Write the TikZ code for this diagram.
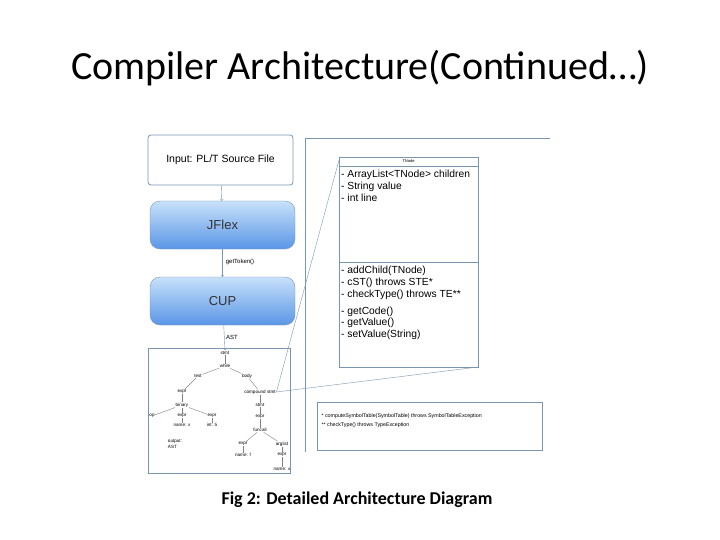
\documentclass[tikz,border=0pt]{standalone}
\usepackage{fontspec}
\setmainfont{Carlito}
\newfontfamily\arial{Liberation Sans}
\usetikzlibrary{positioning}
\definecolor{frameblue}{RGB}{120,150,180}
\definecolor{pillblue}{RGB}{90,150,230}
\definecolor{pilltop}{RGB}{200,225,250}
\begin{document}
\begin{tikzpicture}[x=1pt,y=-1pt,
  box/.style={draw=frameblue,thick},
  pill/.style={draw=frameblue,rounded corners=10pt,top color=pilltop,bottom color=pillblue,
    minimum width=145pt,minimum height=48pt,font=\arial\fontsize{13}{15}\selectfont,text=black!80},
  t/.style={font=\arial\fontsize{4.6}{5.5}\selectfont,inner sep=0.5pt},
  uml/.style={font=\arial\fontsize{10.3}{11.8}\selectfont,align=left,anchor=north west,inner sep=0pt},
  lbl/.style={font=\arial\fontsize{6}{7}\selectfont},
  every edge/.style={draw,gray,thin}]
\useasboundingbox (0,0) rectangle (720,540);
% titles
\node (title) at (360,68) {\fontsize{40}{46}\selectfont Compiler Architecture(Continued…)};
\node (caption) at (357,500) {\fontsize{18}{21}\selectfont\bfseries Fig 2: Detailed Architecture Diagram};
% left column
\node[box,rounded corners=3pt,minimum width=145pt,minimum height=50pt,
  font=\arial\fontsize{10.5}{12}\selectfont] (input) at (220.5,160) {Input: PL/T Source File};
\node[pill] (jflex) at (222.5,225) {JFlex};
\node[pill] (cup) at (222.5,301) {CUP};
\node[lbl] (gettok) at (240,262) {getToken()};
\node[lbl] (ast) at (232,337) {AST};
\draw[frameblue,->] (input) -- (jflex);
\draw[frameblue,->] (jflex) -- (cup);
\draw[box] (148,348) rectangle (290,473);
\draw[frameblue,->] (cup) -- (225,350);
% tree
\node[t] (stmt) at (225,353) {stmt};
\node[t] (while) at (225,366) {while};
\node[t] (test) at (198,376) {test};
\node[t] (body) at (247,376) {body};
\node[t] (expr1) at (182,392) {expr};
\node[t] (cstmt) at (260,392) {compound stmt};
\node[t] (binary) at (182,405) {binary};
\node[t] (op) at (152,416) {op};
\node[t] (expr2) at (182,416) {expr};
\node[t] (expr3) at (212,416) {expr};
\node[t] (namex) at (182,425) {name: x};
\node[t] (int5) at (212,425) {int: 5};
\node[t,align=left] (out) at (175,444) {output:\\AST};
\node[t] (stmt2) at (260,405) {stmt};
\node[t] (expr4) at (260,417) {expr};
\node[t] (fcall) at (260,430) {funcall};
\node[t] (expr5) at (243,444) {expr};
\node[t] (arglist) at (282,444) {arglist};
\node[t] (namef) at (243,455) {name: f};
\node[t] (expr6) at (282,455) {expr};
\node[t] (namex2) at (282,469) {name: x};
\path (stmt) edge (while) (while) edge (test) (while) edge (body)
  (test) edge (expr1) (body) edge (cstmt) (expr1) edge (binary)
  (binary) edge (op) (binary) edge (expr2) (binary) edge (expr3)
  (expr2) edge (namex) (expr3) edge (int5) (cstmt) edge (stmt2)
  (stmt2) edge (expr4) (expr4) edge (fcall) (fcall) edge (expr5)
  (fcall) edge (arglist) (expr5) edge (namef) (arglist) edge (expr6)
  (expr6) edge (namex2);
% zoom frame
\draw[frameblue] (550,138) -- (305,138) -- (305,452);
\draw[box,thin] (339,157) rectangle (478,367);
\draw[frameblue,thin] (339,166) -- (478,166) (339,262) -- (478,262);
\node[font=\arial\fontsize{4}{5}\selectfont] (tnode) at (408.5,161.5) {TNode};
\node[uml] (fields) at (341,170) {- ArrayList<TNode> children\\- String value\\- int line};
\node[uml] (methods) at (341,266) {- addChild(TNode)\\- cST() throws STE*\\- checkType() throws TE**\\[5pt]- getCode()\\- getValue()\\- setValue(String)};
\coordinate (tl) at (339,160);
\coordinate (br) at (478,367);
\draw[frameblue,thin] (cstmt.east) -- (tl);
\draw[frameblue,thin] (cstmt.east) -- (br);
\draw[frameblue,thin] (317,402) rectangle (542,450);
\node[font=\arial\fontsize{5.3}{6.4}\selectfont,align=left,anchor=north west] (notes) at (318,410)
  {* computeSymbolTable(SymbolTable) throws SymbolTableException\\[3pt]** checkType() throws TypeException};
\end{tikzpicture}
\end{document}
